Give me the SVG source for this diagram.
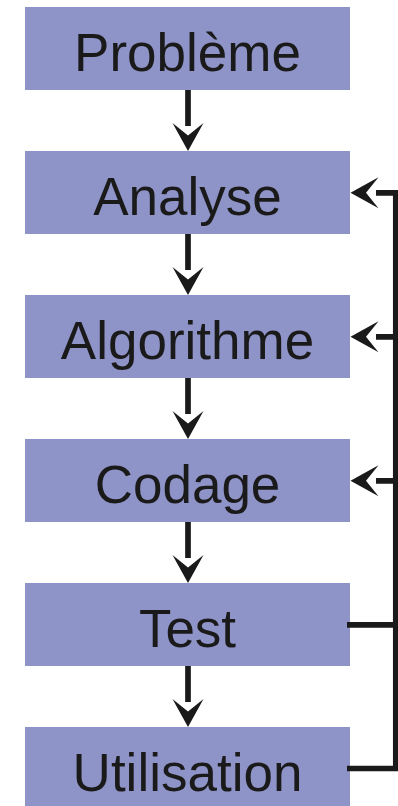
<svg xmlns="http://www.w3.org/2000/svg" width="398" height="806" viewBox="0 0 398 806">
<style>
.box{fill:#8f94c8}
.lbl{font-family:"Liberation Sans",Arial,sans-serif;font-size:53px;fill:#1a1a1a;text-anchor:middle}
.ln{stroke:#1a1a1a;stroke-width:5.7;fill:none}
.ah{fill:#1a1a1a}
</style>
<defs>
<path id="ah" d="M0,0 L-28,-15.5 L-15.5,0 L-28,15.5 Z"/>
</defs>
<rect width="398" height="806" fill="#ffffff"/>
<g id="n1"><rect class="box" x="25" y="7" width="325" height="83"/><text class="lbl" x="187.5" y="70.5">Problème</text></g>
<g id="n2"><rect class="box" x="25" y="151" width="325" height="83"/><text class="lbl" x="187.5" y="214.5">Analyse</text></g>
<g id="n3"><rect class="box" x="25" y="295" width="325" height="83"/><text class="lbl" x="187.5" y="358.5">Algorithme</text></g>
<g id="n4"><rect class="box" x="25" y="439" width="325" height="83"/><text class="lbl" x="187.5" y="502.5">Codage</text></g>
<g id="n5"><rect class="box" x="25" y="583" width="325" height="83"/><text class="lbl" x="187.5" y="646.5">Test</text></g>
<g id="n6"><rect class="box" x="25" y="727" width="325" height="83"/><text class="lbl" x="187.5" y="790.5">Utilisation</text></g>
<g id="connectors">
<path class="ln" d="M188,90 V126 M188,234 V270 M188,378 V414 M188,522 V558 M188,666 V702"/>
<use href="#ah" class="ah" transform="translate(188,151) rotate(90)"/>
<use href="#ah" class="ah" transform="translate(188,295) rotate(90)"/>
<use href="#ah" class="ah" transform="translate(188,439) rotate(90)"/>
<use href="#ah" class="ah" transform="translate(188,583) rotate(90)"/>
<use href="#ah" class="ah" transform="translate(188,727) rotate(90)"/>
<path class="ln" d="M347,768.5 H395.8 V192.8 H376 M395.8,624.8 H347 M395.8,336.8 H376 M395.8,480.8 H376"/>
<use href="#ah" class="ah" transform="translate(350.5,192.8) rotate(180)"/>
<use href="#ah" class="ah" transform="translate(350.5,336.8) rotate(180)"/>
<use href="#ah" class="ah" transform="translate(350.5,480.8) rotate(180)"/>
</g>
</svg>
